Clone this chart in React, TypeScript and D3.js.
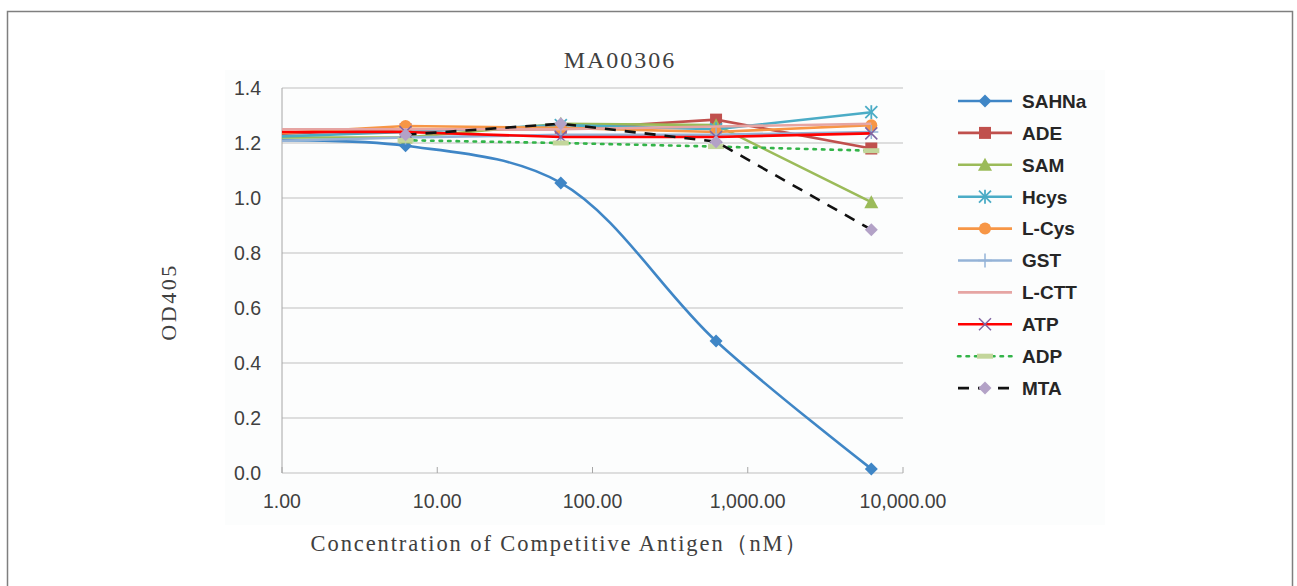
import React from 'react'
import * as d3 from 'd3'

// concentrations (nM); first column sits left of the axis minimum and gets clipped
const concentrations = [0.625, 6.25, 62.5, 625, 6250]

const seriesNames = ['SAHNa', 'ADE', 'SAM', 'Hcys', 'L-Cys', 'GST', 'L-CTT', 'ATP', 'ADP', 'MTA']

const sahna = [1.21, 1.19, 1.055, 0.48, 0.015]
const ade = [1.23, 1.25, 1.25, 1.285, 1.18]
const sam = [1.22, 1.22, 1.27, 1.265, 0.985]
const hcys = [1.22, 1.24, 1.265, 1.25, 1.312]
const lcys = [1.23, 1.262, 1.255, 1.24, 1.265]
const gst = [1.205, 1.22, 1.23, 1.23, 1.24]
const lctt = [1.25, 1.25, 1.25, 1.26, 1.27]
const atp = [1.24, 1.24, 1.222, 1.222, 1.235]
const adp = [null, 1.21, 1.2, 1.187, 1.172]
const mta = [null, 1.23, 1.27, 1.205, 0.885]

const yTicks = [0, 0.2, 0.4, 0.6, 0.8, 1.0, 1.2, 1.4]
const xTicks = [1, 10, 100, 1000, 10000]

type Style = {
  color: string
  width: number
  dash?: string
  marker: string
  mfill: string
  smooth?: boolean
}

const styles: Style[] = [
  { color: '#3f86c6', width: 2.6, marker: 'diamond', mfill: '#3f86c6', smooth: true },
  { color: '#c0504d', width: 2.6, marker: 'square', mfill: '#c0504d' },
  { color: '#9bbb59', width: 2.6, marker: 'triangle', mfill: '#9bbb59' },
  { color: '#4bacc6', width: 2.6, marker: 'star', mfill: '#4bacc6' },
  { color: '#f79646', width: 2.6, marker: 'circle', mfill: '#f79646' },
  { color: '#95b3d7', width: 2.6, marker: 'plus', mfill: '#95b3d7' },
  { color: '#e6a5a3', width: 2.6, marker: 'none', mfill: 'none' },
  { color: '#ff0000', width: 2.6, marker: 'x', mfill: '#8064a2' },
  { color: '#33b449', width: 2.6, dash: '2.5 6', marker: 'dash', mfill: '#c3d69b' },
  { color: '#111111', width: 2.6, dash: '11 9', marker: 'diamond', mfill: '#b3a2c7' },
]

const allSeries = [sahna, ade, sam, hcys, lcys, gst, lctt, atp, adp, mta]

const W = 1297
const H = 586
const plot = { left: 282, right: 903, top: 88, bottom: 473 }

const x = d3.scaleLog().domain([1, 10000]).range([plot.left, plot.right])
const y = d3.scaleLinear().domain([0, 1.4]).range([plot.bottom, plot.top])

function Marker({ kind, cx, cy, fill }: { kind: string; cx: number; cy: number; fill: string }) {
  if (kind === 'diamond') {
    const s = 6.5
    return <path d={`M${cx},${cy - s}L${cx + s},${cy}L${cx},${cy + s}L${cx - s},${cy}Z`} fill={fill} />
  }
  if (kind === 'square') return <rect x={cx - 6} y={cy - 6} width={12} height={12} fill={fill} />
  if (kind === 'triangle') {
    return <path d={`M${cx},${cy - 7}L${cx + 7},${cy + 6}L${cx - 7},${cy + 6}Z`} fill={fill} />
  }
  if (kind === 'circle') return <circle cx={cx} cy={cy} r={6} fill={fill} />
  if (kind === 'star') {
    const s = 6
    return (
      <g stroke={fill} strokeWidth={1.8}>
        <line x1={cx - s} y1={cy - s} x2={cx + s} y2={cy + s} />
        <line x1={cx - s} y1={cy + s} x2={cx + s} y2={cy - s} />
        <line x1={cx} y1={cy - s - 1} x2={cx} y2={cy + s + 1} />
      </g>
    )
  }
  if (kind === 'plus') {
    return (
      <g stroke={fill} strokeWidth={1.5}>
        <line x1={cx} y1={cy - 7} x2={cx} y2={cy + 7} />
        <line x1={cx - 7} y1={cy} x2={cx + 7} y2={cy} />
      </g>
    )
  }
  if (kind === 'x') {
    const s = 6
    return (
      <g stroke={fill} strokeWidth={1.5}>
        <line x1={cx - s} y1={cy - s} x2={cx + s} y2={cy + s} />
        <line x1={cx - s} y1={cy + s} x2={cx + s} y2={cy - s} />
      </g>
    )
  }
  if (kind === 'dash') return <rect x={cx - 8} y={cy - 2.5} width={16} height={5} fill={fill} />
  return null
}

export default function App() {
  const fmt = d3.format(',.2f')

  return (
    <svg width={W} height={H} style={{ position: 'absolute', left: 0, top: 0 }}>
      <rect width={W} height={H} fill="#ffffff" />
      <rect x={225} y={70} width={880} height={455} fill="#fcfdfd" />
      <rect x={7.5} y={11.5} width={1285} height={620} fill="none" stroke="#7f7f7f" strokeWidth={1.5} />

      <defs>
        <clipPath id="plotClip">
          <rect x={plot.left} y={plot.top - 20} width={plot.right - plot.left + 20} height={plot.bottom - plot.top + 40} />
        </clipPath>
      </defs>

      {/* grid */}
      {yTicks.map((t) => (
        <line key={t} x1={plot.left} x2={plot.right} y1={y(t)} y2={y(t)} stroke="#bfbfbf" strokeWidth={1} />
      ))}
      <line x1={plot.left} x2={plot.left} y1={plot.top} y2={plot.bottom} stroke="#a6a6a6" strokeWidth={1} />
      {xTicks.map((t) => (
        <line key={t} x1={x(t)} x2={x(t)} y1={plot.bottom} y2={plot.bottom - 6} stroke="#a6a6a6" />
      ))}

      {/* y tick labels */}
      {yTicks.map((t) => (
        <text key={t} x={261} y={y(t)} dy="0.35em" textAnchor="end" fontFamily="Liberation Sans, Arial, sans-serif" fontSize={19.5} fill="#404040">
          {t.toFixed(1)}
        </text>
      ))}
      {/* x tick labels */}
      {xTicks.map((t) => (
        <text key={t} x={x(t)} y={508} textAnchor="middle" fontFamily="Liberation Sans, Arial, sans-serif" fontSize={19.5} fill="#404040">
          {fmt(t)}
        </text>
      ))}

      {/* series */}
      <g clipPath="url(#plotClip)">
        {allSeries.map((vals, i) => {
          const st = styles[i]
          const pts = concentrations
            .map((c, j) => [c, vals[j]] as [number, number | null])
            .filter((p) => p[1] !== null) as [number, number][]
          const line = d3
            .line<[number, number]>()
            .x((p) => x(p[0]))
            .y((p) => y(p[1]))
            .curve(st.smooth ? d3.curveCatmullRom : d3.curveLinear)
          return (
            <g key={seriesNames[i]}>
              <path d={line(pts) || ''} fill="none" stroke={st.color} strokeWidth={st.width} strokeDasharray={st.dash} strokeLinecap={st.dash && st.dash.startsWith('2.5') ? 'round' : 'butt'} />
              {pts
                .filter((p) => p[0] >= 1)
                .map((p, k) => (
                  <Marker key={k} kind={st.marker} cx={x(p[0])} cy={y(p[1])} fill={st.mfill} />
                ))}
            </g>
          )
        })}
      </g>

      {/* legend */}
      {seriesNames.map((name, i) => {
        const st = styles[i]
        const ly = 101 + i * 31.9
        return (
          <g key={name}>
            <line x1={958} x2={1012} y1={ly} y2={ly} stroke={st.color} strokeWidth={st.width} strokeDasharray={st.dash} strokeLinecap={st.dash && st.dash.startsWith('2.5') ? 'round' : 'butt'} />
            <Marker kind={st.marker} cx={985} cy={ly} fill={st.mfill} />
            <text x={1022} y={ly} dy="0.36em" fontFamily="Liberation Sans, Arial, sans-serif" fontWeight="bold" fontSize={19} fill="#262626">
              {name}
            </text>
          </g>
        )
      })}

      {/* titles */}
      <text x={620} y={68} textAnchor="middle" fontFamily="Liberation Serif, serif" fontSize={24} letterSpacing={2} fill="#404040">
        MA00306
      </text>
      <text x={560} y={551} textAnchor="middle" fontFamily="Liberation Serif, serif" fontSize={22.5} letterSpacing={1.9} fill="#404040">
        Concentration of Competitive Antigen（nM）
      </text>
      <text transform="translate(176,302) rotate(-90)" textAnchor="middle" fontFamily="Liberation Serif, serif" fontSize={22} letterSpacing={2.5} fill="#404040">
        OD405
      </text>
    </svg>
  )
}
